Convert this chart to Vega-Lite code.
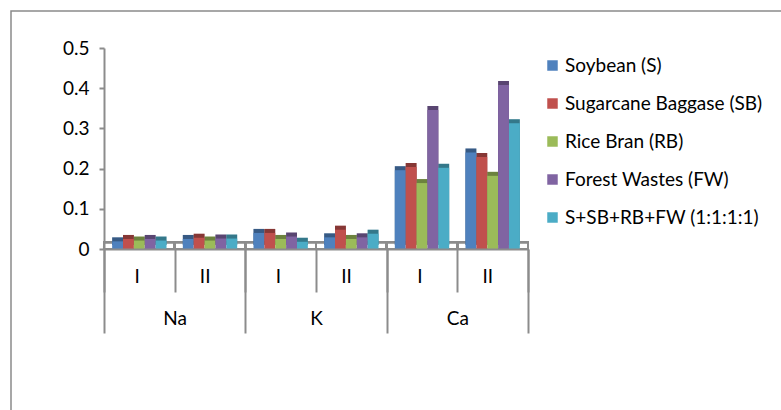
{
  "$schema": "https://vega.github.io/schema/vega-lite/v6.json",
  "autosize": "none",
  "width": 800,
  "height": 420,
  "padding": {"left": 11, "top": 11, "right": 0, "bottom": 0},
  "background": "white",
  "config": {
    "font": "Lato",
    "view": {"stroke": "#8a8a8a", "strokeWidth": 1.5},
    "axis": {
      "labelFont": "Lato",
      "labelFontSize": 19,
      "labelColor": "#000000",
      "domainColor": "#8c8c8c",
      "domainWidth": 2,
      "tickColor": "#8c8c8c",
      "tickWidth": 2,
      "grid": false,
      "title": null
    },
    "legend": {"labelFont": "Lato", "labelFontSize": 19, "labelColor": "#000000", "labelLimit": 400}
  },
  "data": {
    "values": [
      {"element": "Na", "run": "I", "series": "Soybean (S)", "value": 0.019},
      {"element": "Na", "run": "I", "series": "Sugarcane Baggase (SB)", "value": 0.025},
      {"element": "Na", "run": "I", "series": "Rice Bran (RB)", "value": 0.021},
      {"element": "Na", "run": "I", "series": "Forest Wastes (FW)", "value": 0.025},
      {"element": "Na", "run": "I", "series": "S+SB+RB+FW (1:1:1:1)", "value": 0.021},
      {"element": "Na", "run": "II", "series": "Soybean (S)", "value": 0.025},
      {"element": "Na", "run": "II", "series": "Sugarcane Baggase (SB)", "value": 0.028},
      {"element": "Na", "run": "II", "series": "Rice Bran (RB)", "value": 0.021},
      {"element": "Na", "run": "II", "series": "Forest Wastes (FW)", "value": 0.026},
      {"element": "Na", "run": "II", "series": "S+SB+RB+FW (1:1:1:1)", "value": 0.026},
      {"element": "K", "run": "I", "series": "Soybean (S)", "value": 0.040},
      {"element": "K", "run": "I", "series": "Sugarcane Baggase (SB)", "value": 0.040},
      {"element": "K", "run": "I", "series": "Rice Bran (RB)", "value": 0.025},
      {"element": "K", "run": "I", "series": "Forest Wastes (FW)", "value": 0.031},
      {"element": "K", "run": "I", "series": "S+SB+RB+FW (1:1:1:1)", "value": 0.018},
      {"element": "K", "run": "II", "series": "Soybean (S)", "value": 0.029},
      {"element": "K", "run": "II", "series": "Sugarcane Baggase (SB)", "value": 0.048},
      {"element": "K", "run": "II", "series": "Rice Bran (RB)", "value": 0.025},
      {"element": "K", "run": "II", "series": "Forest Wastes (FW)", "value": 0.029},
      {"element": "K", "run": "II", "series": "S+SB+RB+FW (1:1:1:1)", "value": 0.038},
      {"element": "Ca", "run": "I", "series": "Soybean (S)", "value": 0.196},
      {"element": "Ca", "run": "I", "series": "Sugarcane Baggase (SB)", "value": 0.204},
      {"element": "Ca", "run": "I", "series": "Rice Bran (RB)", "value": 0.164},
      {"element": "Ca", "run": "I", "series": "Forest Wastes (FW)", "value": 0.346},
      {"element": "Ca", "run": "I", "series": "S+SB+RB+FW (1:1:1:1)", "value": 0.202},
      {"element": "Ca", "run": "II", "series": "Soybean (S)", "value": 0.240},
      {"element": "Ca", "run": "II", "series": "Sugarcane Baggase (SB)", "value": 0.229},
      {"element": "Ca", "run": "II", "series": "Rice Bran (RB)", "value": 0.182},
      {"element": "Ca", "run": "II", "series": "Forest Wastes (FW)", "value": 0.408},
      {"element": "Ca", "run": "II", "series": "S+SB+RB+FW (1:1:1:1)", "value": 0.313}
    ]
  },
  "transform": [{"calculate": "datum.element + '|' + datum.run", "as": "cat"}],
  "layer": [
    {
      "layer": [
        {
          "description": "back edge of the 3-D floor",
          "mark": {"type": "rect", "fill": "transparent", "stroke": "#8c8c8c", "strokeWidth": 2},
          "encoding": {
            "x": {"field": "cat", "type": "nominal",
                  "sort": ["Na|I", "Na|II", "K|I", "K|II", "Ca|I", "Ca|II"]},
            "y": {"datum": 0.017, "type": "quantitative"},
            "y2": {"datum": 0}
          }
        },
        {
          "mark": {"type": "bar", "yOffset": -4, "y2Offset": -4},
          "encoding": {
            "x": {"field": "cat", "type": "nominal",
                  "sort": ["Na|I", "Na|II", "K|I", "K|II", "Ca|I", "Ca|II"]},
            "xOffset": {"field": "series", "type": "nominal",
                        "sort": ["Soybean (S)", "Sugarcane Baggase (SB)", "Rice Bran (RB)", "Forest Wastes (FW)", "S+SB+RB+FW (1:1:1:1)"]},
            "y": {"field": "value", "type": "quantitative"},
            "color": {"field": "series", "type": "nominal"}
          }
        },
        {
          "mark": {"type": "bar", "yOffset": -4, "y2Offset": -4, "color": "#000000", "opacity": 0.3},
          "encoding": {
            "x": {"field": "cat", "type": "nominal",
                  "sort": ["Na|I", "Na|II", "K|I", "K|II", "Ca|I", "Ca|II"]},
            "xOffset": {"field": "series", "type": "nominal",
                        "sort": ["Soybean (S)", "Sugarcane Baggase (SB)", "Rice Bran (RB)", "Forest Wastes (FW)", "S+SB+RB+FW (1:1:1:1)"]},
            "y": {"field": "value", "type": "quantitative"}
          }
        },
        {
          "mark": {"type": "bar"},
          "encoding": {
            "x": {
              "field": "cat", "type": "nominal",
              "sort": ["Na|I", "Na|II", "K|I", "K|II", "Ca|I", "Ca|II"],
              "scale": {"range": [93, 517], "paddingInner": 0, "paddingOuter": 0},
              "axis": {
                "orient": "bottom",
                "offset": -182,
                "labelExpr": "split(datum.value, '|')[1]",
                "labelAngle": 0,
                "tickBand": "extent",
                "tickSize": 43,
                "labelPadding": -25,
                "labelBaseline": "top"
              }
            },
            "xOffset": {
              "field": "series", "type": "nominal",
              "sort": ["Soybean (S)", "Sugarcane Baggase (SB)", "Rice Bran (RB)", "Forest Wastes (FW)", "S+SB+RB+FW (1:1:1:1)"],
              "scale": {"paddingInner": 0, "paddingOuter": 0.75}
            },
            "y": {
              "field": "value", "type": "quantitative",
              "scale": {"domain": [0, 0.5], "range": [238, 37], "nice": false, "zero": true},
              "axis": {
                "orient": "left",
                "offset": -93,
                "values": [0, 0.1, 0.2, 0.3, 0.4, 0.5],
                "format": "~g",
                "tickSize": 5,
                "labelPadding": 10
              }
            },
            "color": {
              "field": "series", "type": "nominal",
              "sort": ["Soybean (S)", "Sugarcane Baggase (SB)", "Rice Bran (RB)", "Forest Wastes (FW)", "S+SB+RB+FW (1:1:1:1)"],
              "scale": {
                "domain": ["Soybean (S)", "Sugarcane Baggase (SB)", "Rice Bran (RB)", "Forest Wastes (FW)", "S+SB+RB+FW (1:1:1:1)"],
                "range": ["#4F81BD", "#C0504D", "#9BBB59", "#8064A2", "#4BACC6"]
              },
              "legend": {
                "title": null,
                "orient": "none",
                "legendX": 532,
                "legendY": 45,
                "symbolType": "square",
                "symbolSize": 110,
                "symbolStrokeWidth": 0,
                "rowPadding": 18,
                "labelOffset": 3
              }
            }
          }
        }
      ]
    },
    {
      "mark": {"type": "bar", "opacity": 0},
      "encoding": {
        "x": {
          "field": "element", "type": "nominal",
          "sort": ["Na", "K", "Ca"],
          "scale": {"range": [93, 517], "paddingInner": 0, "paddingOuter": 0},
          "axis": {
            "orient": "bottom",
            "offset": -182,
            "domain": false,
            "labelAngle": 0,
            "tickBand": "extent",
            "tickSize": 84,
            "labelPadding": -24,
            "labelBaseline": "top"
          }
        },
        "y": {"field": "value", "type": "quantitative", "aggregate": "max"}
      }
    }
  ],
  "resolve": {"scale": {"x": "independent"}, "axis": {"x": "independent"}}
}
